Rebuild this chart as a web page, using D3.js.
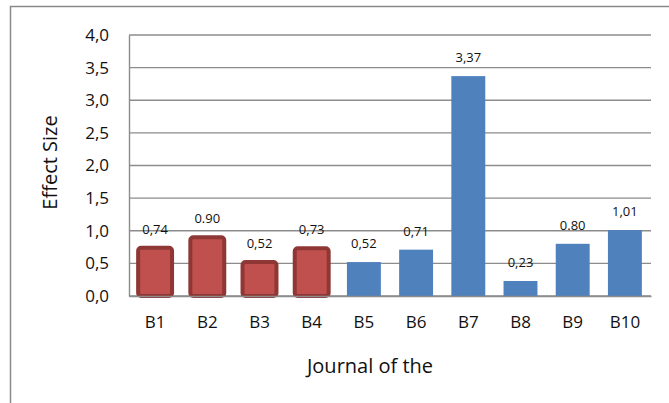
<!DOCTYPE html>
<html>
<head>
<meta charset="utf-8">
<script src="https://cdn.jsdelivr.net/npm/d3@7"></script>
<style>
  body { margin: 0; background: #fff; }
  text { font-family: "Open Sans", "Noto Sans", sans-serif; fill: #111; }
</style>
</head>
<body>
<div id="chart"></div>
<script>
const categories = ["B1", "B2", "B3", "B4", "B5", "B6", "B7", "B8", "B9", "B10"];
const values = [0.74, 0.90, 0.52, 0.73, 0.52, 0.71, 3.37, 0.23, 0.80, 1.01];
const valueLabels = ["0,74", "0.90", "0,52", "0,73", "0,52", "0,71", "3,37", "0,23", "0.80", "1,01"];
const groups = ["red", "red", "red", "red", "blue", "blue", "blue", "blue", "blue", "blue"];
const yTicks = [0, 0.5, 1, 1.5, 2, 2.5, 3, 3.5, 4];

const data = categories.map((c, i) => ({ name: c, value: values[i], label: valueLabels[i], group: groups[i] }));

const W = 669, H = 403;
const margin = { top: 35, right: 18, bottom: 107, left: 129 };
const width = W - margin.left - margin.right;
const height = H - margin.top - margin.bottom;

const root = d3.select("#chart")
    .append("svg")
    .attr("width", W)
    .attr("height", H);

// outer chart border (only left and top are in view)
root.append("rect")
    .attr("x", 10.5)
    .attr("y", 6.5)
    .attr("width", W + 20)
    .attr("height", H + 20)
    .attr("fill", "none")
    .attr("stroke", "#8a8a8a")
    .attr("stroke-width", 1.5);

const svg = root.append("g")
    .attr("transform", `translate(${margin.left},${margin.top})`);

const x = d3.scaleBand()
    .domain(categories)
    .range([0, width])
    .paddingInner(0.35)
    .paddingOuter(0.175);

const y = d3.scaleLinear()
    .domain([0, 4])
    .range([height, 0]);

// gridlines
svg.append("g")
    .selectAll("line")
    .data(yTicks)
    .enter().append("line")
    .attr("x1", 0)
    .attr("x2", width)
    .attr("y1", d => y(d))
    .attr("y2", d => y(d))
    .attr("stroke", "#8c8c8c")
    .attr("stroke-width", 1.4);

// y axis
const yAxis = svg.append("g")
    .call(d3.axisLeft(y).tickValues(yTicks).tickSize(0).tickPadding(20)
        .tickFormat(d => d3.format(".1f")(d).replace(".", ",")));
yAxis.select(".domain").attr("stroke", "#8c8c8c").attr("stroke-width", 1.4);
yAxis.selectAll("text").style("font-size", "17px").attr("fill", "#111");

// bars
svg.selectAll(".bar")
    .data(data)
    .enter().append("rect")
    .attr("class", "bar")
    .attr("x", d => x(d.name))
    .attr("y", d => y(d.value))
    .attr("width", x.bandwidth())
    .attr("height", d => height - y(d.value))
    .attr("rx", d => d.group === "red" ? 3 : 0)
    .attr("fill", d => d.group === "red" ? "#C0504D" : "#4F81BD")
    .attr("stroke", d => d.group === "red" ? "#8E3735" : "none")
    .attr("stroke-width", d => d.group === "red" ? 4 : 0);

// x axis
const xAxis = svg.append("g")
    .attr("transform", `translate(0,${height})`)
    .call(d3.axisBottom(x).tickSize(0).tickPadding(20));
xAxis.select(".domain").attr("stroke", "#8c8c8c").attr("stroke-width", 1.4);
xAxis.selectAll("text").style("font-size", "17px").attr("fill", "#111");

// value labels
svg.selectAll(".val")
    .data(data)
    .enter().append("text")
    .attr("class", "val")
    .attr("x", d => x(d.name) + x.bandwidth() / 2)
    .attr("y", d => y(d.value) - 14)
    .attr("text-anchor", "middle")
    .style("font-size", "13px")
    .text(d => d.label);

// axis titles
svg.append("text")
    .attr("transform", `translate(${-79},${height / 2 - 3}) rotate(-90)`)
    .attr("text-anchor", "middle")
    .attr("dy", "0.35em")
    .style("font-size", "20px")
    .text("Effect Size");

svg.append("text")
    .attr("x", width / 2 - 20)
    .attr("y", height + 77)
    .attr("text-anchor", "middle")
    .style("font-size", "20px")
    .text("Journal of the");
</script>
</body>
</html>
